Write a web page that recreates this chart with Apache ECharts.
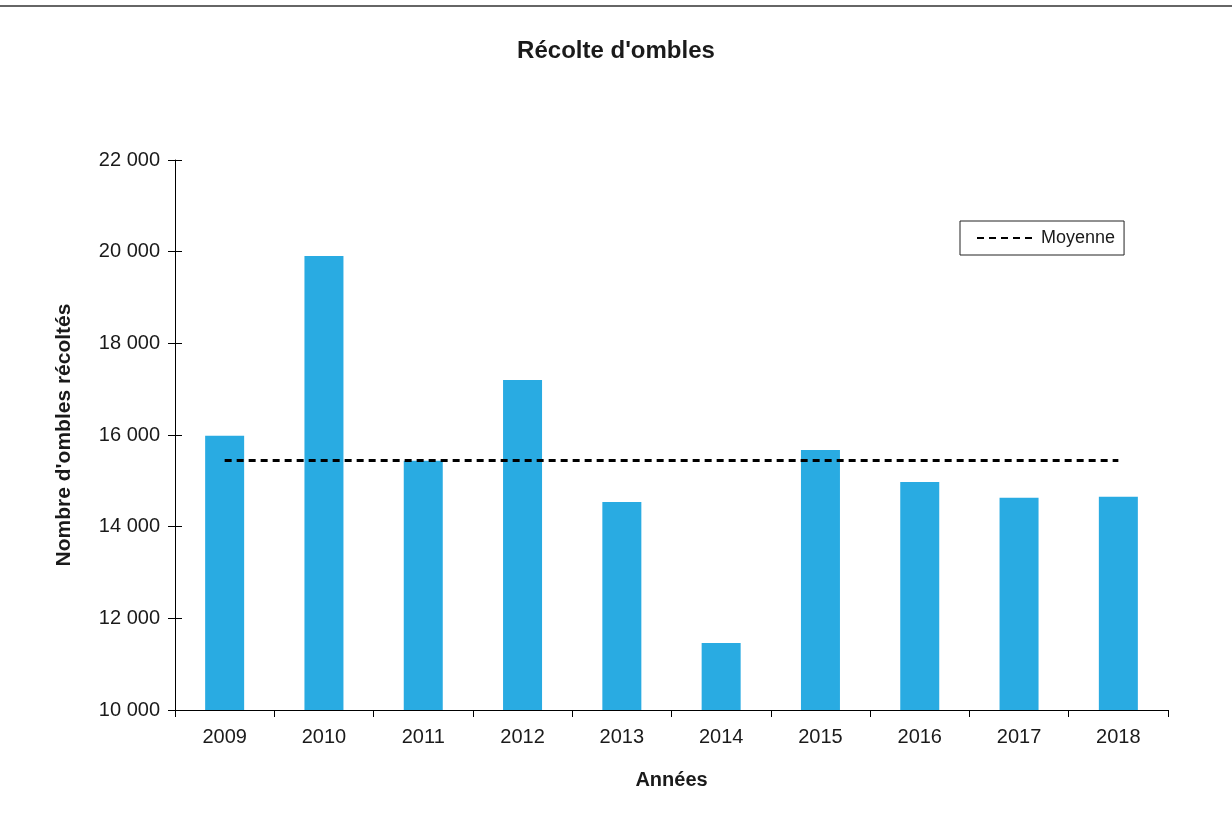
<!DOCTYPE html>
<html>
<head>
<meta charset="utf-8">
<script src="https://cdn.jsdelivr.net/npm/echarts@6/dist/echarts.min.js"></script>
<style>
html,body{margin:0;padding:0;background:#fff;}
#chart{width:1232px;height:840px;}
</style>
</head>
<body>
<div id="chart"></div>
<script>
const years = ['2009','2010','2011','2012','2013','2014','2015','2016','2017','2018'];
const harvest = [15985, 19905, 15440, 17200, 14538, 11462, 15673, 14975, 14632, 14654];
const meanValue = 15446;
const meanLine = years.map(() => meanValue);

const fmt = v => String(v).replace(/\B(?=(\d{3})+(?!\d))/g, ' ');
const font = '"Liberation Sans", Arial, sans-serif';

const chart = echarts.init(document.getElementById('chart'));
chart.setOption({
  animation: false,
  backgroundColor: '#fff',
  textStyle: { fontFamily: font, color: '#000' },
  graphic: [{
    type: 'line', shape: { x1: 0, y1: 6, x2: 1232, y2: 6 },
    style: { stroke: '#333', lineWidth: 1.5 }
  }],
  title: {
    text: "Récolte d'ombles", left: 'center', top: 34,
    textStyle: { fontFamily: font, fontSize: 24, fontWeight: 'bold', color: '#1a1a1a' }
  },
  legend: {
    left: 960, top: 221,
    data: ['Moyenne'],
    borderColor: '#222', borderWidth: 1, padding: [8, 9, 8, 16],
    itemWidth: 58, itemHeight: 14, itemGap: 4,
    itemStyle: { opacity: 0 },
    textStyle: { fontFamily: font, fontSize: 18, color: '#1a1a1a', padding: [0, 0, 0, 1] }
  },
  grid: { left: 175, right: 64, top: 160, bottom: 130 },
  xAxis: {
    type: 'category', data: years, boundaryGap: true,
    name: 'Années', nameLocation: 'middle', nameGap: 60,
    nameTextStyle: { fontFamily: font, fontSize: 20, fontWeight: 'bold', color: '#1a1a1a' },
    axisLine: { lineStyle: { color: '#000', width: 1 } },
    axisTick: { show: true, length: 7, alignWithLabel: false, lineStyle: { color: '#000' } },
    axisLabel: { fontFamily: font, fontSize: 20, color: '#1a1a1a', margin: 17 }
  },
  yAxis: [{
    type: 'value', min: 10000, max: 22000, interval: 2000,
    name: "Nombre d'ombles récoltés", nameLocation: 'middle', nameGap: 100,
    nameTextStyle: { fontFamily: font, fontSize: 21, fontWeight: 'bold', color: '#1a1a1a' },
    axisLine: { show: true, lineStyle: { color: '#000', width: 1 } },
    axisTick: { show: true, length: 7, lineStyle: { color: '#000' } },
    axisLabel: { fontFamily: font, fontSize: 20, color: '#1a1a1a', margin: 15, formatter: fmt },
    splitLine: { show: false }
  }, {
    type: 'value', min: 10000, max: 22000, interval: 2000, position: 'left',
    axisLine: { show: false },
    axisTick: { show: true, inside: true, length: 7, lineStyle: { color: '#000' } },
    axisLabel: { show: false },
    splitLine: { show: false }
  }],
  series: [{
    name: 'Récolte', type: 'bar', data: harvest, barWidth: 39,
    itemStyle: { color: '#29ABE2' }
  }, {
    name: 'Moyenne', type: 'line', data: meanLine, symbol: 'none',
    lineStyle: { color: '#000', width: 3, type: [7, 5] },
    itemStyle: { color: '#000' }
  }]
});
</script>
</body>
</html>
